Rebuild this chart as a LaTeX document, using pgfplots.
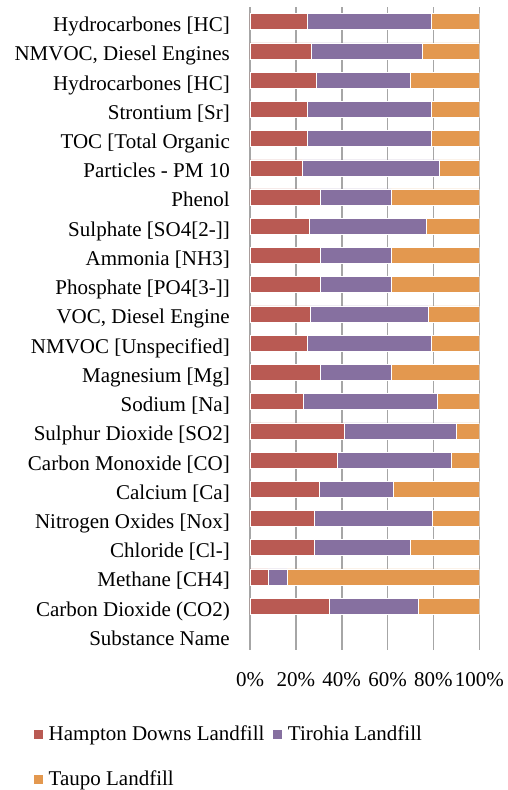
\documentclass[border=0pt]{standalone}
\usepackage{fontspec}
\setmainfont{Liberation Serif}
\usepackage{pgfplots}
\usepackage{pgfplotstable}
\pgfplotsset{compat=1.18}

\definecolor{hampton}{HTML}{B95A53}
\definecolor{tirohia}{HTML}{8670A0}
\definecolor{taupo}{HTML}{E3984F}
\definecolor{gridgray}{HTML}{A6A6A6}

% share of each landfill per substance (percent); idx = row from the top
\pgfplotstableread{
idx  hampton  tirohia  taupo
0    25.0     53.9     21.1
1    26.7     48.4     24.9
2    28.9     40.9     30.2
3    25.0     54.1     20.9
4    25.0     54.1     20.9
5    22.8     59.6     17.6
6    30.7     30.9     38.4
7    25.7     51.0     23.3
8    30.7     30.9     38.4
9    30.7     30.9     38.4
10   26.3     51.3     22.4
11   25.0     53.9     21.1
12   30.7     30.9     38.4
13   23.3     58.4     18.3
14   41.0     48.8     10.2
15   38.1     49.5     12.4
16   30.2     32.4     37.4
17   28.1     51.4     20.5
18   28.1     41.7     30.2
19   8.0      8.3      83.7
20   34.7     38.6     26.7
}\substances

\begin{document}
\fontsize{21pt}{25pt}\selectfont
\begin{tikzpicture}[font=\fontsize{21pt}{25pt}\selectfont]
\useasboundingbox (0pt,0pt) rectangle (508pt,790pt);
\begin{axis}[
  at={(250pt,140pt)}, anchor=south west,
  scale only axis, width=229.3pt, height=643pt,
  xbar stacked, bar width=16pt,
  xmin=0, xmax=100,
  ymin=-0.5, ymax=21.5, y dir=reverse,
  axis line style={draw=none},
  major tick length=0pt,
  xmajorgrids, grid style={gridgray, line width=1.6pt},
  xtick={0,20,40,60,80,100},
  xticklabels={0\%,20\%,40\%,60\%,80\%,100\%},
  xticklabel style={anchor=base, inner sep=0pt, yshift=-36pt},
  ytick={0,...,21},
  yticklabels={
    Hydrocarbones [HC],
    {NMVOC, Diesel Engines},
    Hydrocarbones [HC],
    Strontium [Sr],
    TOC [Total Organic,
    Particles - PM 10,
    Phenol,
    {Sulphate [SO4[2-]]},
    Ammonia [NH3],
    {Phosphate [PO4[3-]]},
    {VOC, Diesel Engine},
    NMVOC [Unspecified],
    Magnesium [Mg],
    Sodium [Na],
    Sulphur Dioxide [SO2],
    Carbon Monoxide [CO],
    Calcium [Ca],
    Nitrogen Oxides [Nox],
    Chloride [Cl-],
    Methane [CH4],
    Carbon Dioxide (CO2),
    Substance Name},
  yticklabel style={anchor=base east, inner sep=0pt, xshift=-20pt, yshift=-10pt},
  legend columns=2,
  legend cell align=left,
  legend style={draw=none, fill=none, inner sep=0pt,
    at={(-0.9464,-0.1174)}, anchor=north west,
    nodes={inner sep=0pt},
    row sep=27pt,
    /tikz/every odd column/.style={column sep=5pt},
    /tikz/every even column/.style={column sep=8pt}},
  legend image code/.code={\fill[#1] (0pt,-5pt) rectangle (10pt,5pt);},
  every axis plot/.append style={draw=white, line width=0.5pt},
]
\addplot[fill=hampton] table[x=hampton, y=idx] {\substances};
\addplot[fill=tirohia] table[x=tirohia, y=idx] {\substances};
\addplot[fill=taupo]   table[x=taupo,   y=idx] {\substances};
\legend{Hampton Downs Landfill, Tirohia Landfill, Taupo Landfill}
\end{axis}
\end{tikzpicture}
\end{document}
